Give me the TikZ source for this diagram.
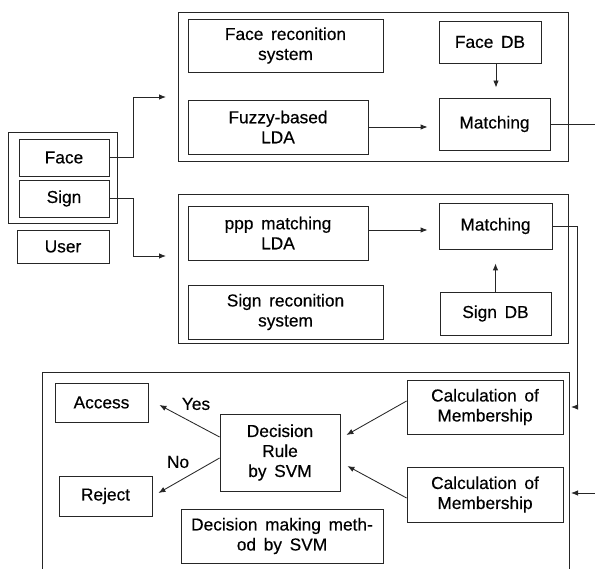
\documentclass[tikz,border=0pt]{standalone}
\usepackage{fontspec}
\setmainfont{Liberation Sans}[WordSpace=1.6, FakeBold=0.4]
\usetikzlibrary{arrows.meta, positioning}

\begin{document}
\begin{tikzpicture}[
  x=1pt, y=-1pt,
  blk/.style={rectangle, draw=black!85, line width=0.85pt, align=center,
    inner sep=0pt, font=\fontsize{17.3}{20}\selectfont},
  panel/.style={rectangle, draw=black!85, line width=0.85pt, inner sep=0pt},
  arr/.style={-{Latex[length=7pt,width=5.5pt]}, line width=0.85pt, black!85},
  conn/.style={line width=0.85pt, black!85},
  lbl/.style={font=\fontsize{17.3}{20}\selectfont}
]
\useasboundingbox (0,0) rectangle (595,569);

% user side
\node[panel, minimum width=109pt, minimum height=91pt] (user) at (62.5,177.5) {};
\node[blk, minimum width=90pt, minimum height=37pt] (face) at (64,157.5) {Face};
\node[blk, minimum width=90pt, minimum height=37pt] (sign) at (64,198.5) {Sign};
\node[blk, minimum width=92pt, minimum height=33pt] (userlbl) at (63,246.5) {User};

% face recognition system
\node[panel, minimum width=390pt, minimum height=149pt] (facepanel) at (373,86.5) {};
\node[blk, minimum width=195pt, minimum height=53pt] (facesys) at (285.5,45.5) {Face reconition\\system};
\node[blk, minimum width=102pt, minimum height=42pt] (facedb) at (490,42) {Face DB};
\node[blk, minimum width=180pt, minimum height=54pt] (fuzzy) at (278,127) {Fuzzy-based\\LDA};
\node[blk, minimum width=111pt, minimum height=52pt] (facematch) at (494.5,124) {Matching};

% sign recognition system
\node[panel, minimum width=390pt, minimum height=149pt] (signpanel) at (373,268.5) {};
\node[blk, minimum width=180pt, minimum height=54pt] (ppp) at (278,233) {ppp matching\\LDA};
\node[blk, minimum width=195pt, minimum height=54pt] (signsys) at (285.5,312) {Sign reconition\\system};
\node[blk, minimum width=113pt, minimum height=46pt] (signmatch) at (495.5,226) {Matching};
\node[blk, minimum width=111pt, minimum height=43pt] (signdb) at (495.5,313.5) {Sign DB};

% decision making
\draw[conn] (42,569) |- (569,372) -- (569,569);
\node[blk, minimum width=93pt, minimum height=39pt] (access) at (101.5,402.5) {Access};
\node[blk, minimum width=93pt, minimum height=40pt] (reject) at (105.5,496) {Reject};
\node[blk, minimum width=120pt, minimum height=77pt] (svm) at (280,452.5) {Decision\\Rule\\by SVM};
\node[blk, minimum width=202pt, minimum height=54pt] (method) at (282,536) {Decision making meth-\\od by SVM};
\node[blk, minimum width=156pt, minimum height=54pt] (calcface) at (485,407) {Calculation of\\Membership};
\node[blk, minimum width=156pt, minimum height=55pt] (calcsign) at (485,494.5) {Calculation of\\Membership};
\node[lbl] (yes) at (196,404) {Yes};
\node[lbl] (no) at (178,462) {No};

\coordinate (facein) at (166,97);
\coordinate (signin) at (166,256);
\coordinate (faceout) at (595,124);
\coordinate (farright) at (595,493);
\coordinate (calcin1) at (571,407);
\coordinate (calcin2) at (571,493);

\draw[arr] (face.east) -- ++(24,0) |- (facein);
\draw[arr] (sign.east) -- ++(24,0) |- (signin);
\draw[arr, shorten >=11pt] (fuzzy.east) -- (fuzzy.east -| facematch.west);
\draw[arr, shorten >=10pt] ([xshift=6pt]facedb.south) -- ([xshift=6pt]facedb.south |- facematch.north);
\draw[conn] (facematch.east) -- (faceout);
\draw[arr, shorten >=11pt] ([yshift=3pt]ppp.east) -- ([yshift=3pt]ppp.east -| signmatch.west);
\draw[arr, shorten >=14pt] (signdb.north) -- (signmatch.south);
\draw[arr] (signmatch.east) -- ++(25,0) |- (calcin1);
\draw[arr] (farright) -- (calcin2);

\draw[arr] ([yshift=6pt]calcface.west) -- ([xshift=6pt,yshift=17.5pt]svm.east);
\draw[arr] ([yshift=-3.5pt]calcsign.west) -- ([xshift=7pt,yshift=-13.5pt]svm.east);
\draw[arr] ([yshift=15.5pt]svm.west) -- ([xshift=11pt,yshift=-2.5pt]access.east);
\draw[arr] ([yshift=-5.5pt]svm.west) -- ([xshift=6pt,yshift=3pt]reject.east);

\end{tikzpicture}
\end{document}
